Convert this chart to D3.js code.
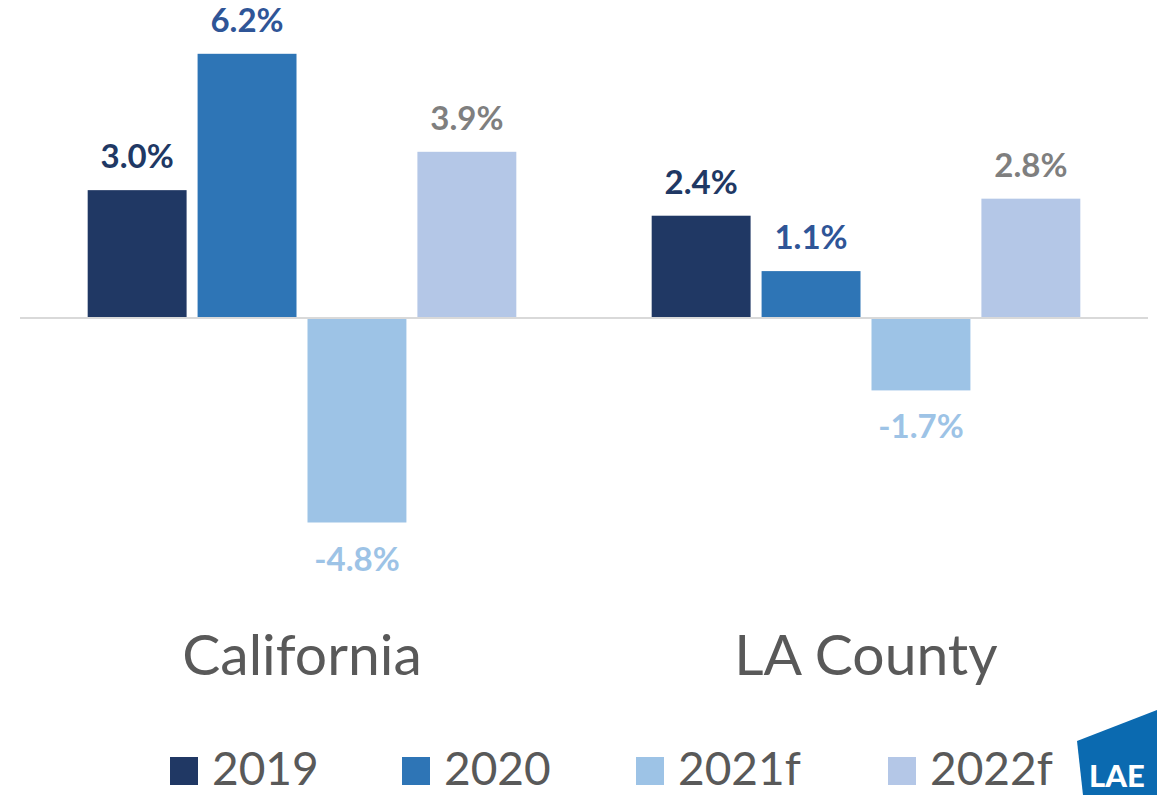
<!DOCTYPE html>
<html>
<head>
<meta charset="utf-8">
<script src="https://cdn.jsdelivr.net/npm/d3@7"></script>
<style>
html,body{margin:0;padding:0;background:#fff;overflow:hidden;}
svg{display:block;font-family:Lato,"Open Sans",sans-serif;}
</style>
</head>
<body>
<svg id="chart" width="1157" height="795"></svg>
<script>
const categories = ["California", "LA County"];
const seriesNames = ["2019", "2020", "2021f", "2022f"];
const values2019 = [3.0, 2.4];
const values2020 = [6.2, 1.1];
const values2021f = [-4.8, -1.7];
const values2022f = [3.9, 2.8];
const seriesValues = [values2019, values2020, values2021f, values2022f];
const barColors = ["#203864", "#2E75B6", "#9DC3E6", "#B4C7E7"];
const labelColors = ["#203864", "#2F5597", "#9DC3E6", "#7F7F7F"];

const svg = d3.select("#chart");

const x0 = d3.scaleBand().domain(categories).range([20, 1148]).paddingInner(0.24).paddingOuter(0.12);
const x1 = d3.scaleBand().domain(seriesNames).range([0, x0.bandwidth()]).paddingInner(0.1);
const y = d3.scaleLinear().domain([-4.8, 6.2]).range([522.5, 53.8]);

const fmt = v => (v < 0 ? "-" : "") + d3.format(".1f")(Math.abs(v)) + "%";

const data = [];
categories.forEach((c, ci) => {
  seriesNames.forEach((s, si) => {
    data.push({cat: c, series: s, si: si, v: seriesValues[si][ci]});
  });
});

// bars
svg.append("g").selectAll("rect").data(data).enter().append("rect")
  .attr("x", d => x0(d.cat) + x1(d.series))
  .attr("width", x1.bandwidth())
  .attr("y", d => d.v >= 0 ? y(d.v) : y(0) + 1)
  .attr("height", d => d.v >= 0 ? y(0) - y(d.v) : y(d.v) - y(0) - 1)
  .attr("fill", d => barColors[d.si]);

// zero line
svg.append("line")
  .attr("x1", 20).attr("x2", 1148)
  .attr("y1", y(0)).attr("y2", y(0))
  .attr("stroke", "#D9D9D9").attr("stroke-width", 2);

// value labels
svg.append("g").selectAll("text").data(data).enter().append("text")
  .attr("x", d => x0(d.cat) + x1(d.series) + x1.bandwidth() / 2)
  .attr("y", d => d.v >= 0 ? y(d.v) - 22 : y(d.v) + 48)
  .attr("text-anchor", "middle")
  .attr("font-size", 33)
  .attr("font-weight", "bold")
  .attr("fill", d => labelColors[d.si])
  .text(d => fmt(d.v));

// category labels
svg.append("g").selectAll("text").data(categories).enter().append("text")
  .attr("x", d => x0(d) + x0.bandwidth() / 2)
  .attr("y", 675)
  .attr("text-anchor", "middle")
  .attr("font-size", 57)
  .attr("fill", "#595959")
  .text(d => d);

// legend
const legendX = [170, 402, 636, 888];
const legend = svg.append("g").selectAll("g").data(seriesNames).enter().append("g")
  .attr("transform", (d, i) => `translate(${legendX[i]},0)`);
legend.append("rect")
  .attr("x", 0).attr("y", 757).attr("width", 28).attr("height", 28)
  .attr("fill", (d, i) => barColors[i]);
legend.append("text")
  .attr("x", 42).attr("y", 785)
  .attr("font-size", 46)
  .attr("fill", "#595959")
  .text(d => d);

// logo (partially cropped)
const logo = svg.append("g");
logo.append("path")
  .attr("d", "M1077,741 L1157,710 L1157,795 L1083,795 Z")
  .attr("fill", "#0B6AB0");
logo.append("text")
  .attr("x", 1089).attr("y", 787)
  .attr("font-size", 31).attr("font-weight", "900")
  .attr("fill", "#fff")
  .attr("font-family", "Lato, sans-serif")
  .text("LAE");
</script>
</body>
</html>
